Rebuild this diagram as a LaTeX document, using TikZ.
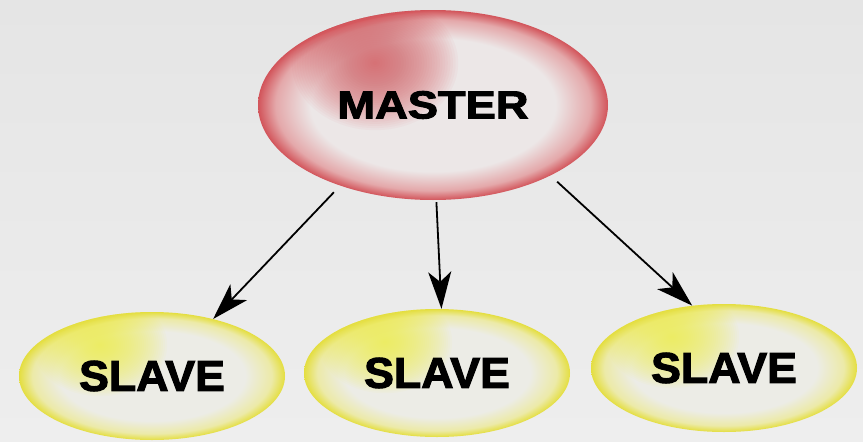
\documentclass[tikz,border=0pt]{standalone}
\usepackage{fontspec}
\setmainfont{Liberation Sans}
\newfontfamily\heavyfont{Liberation Sans Bold}[FakeBold=2.5]
\usetikzlibrary{shapes.geometric,arrows.meta}
\definecolor{bgtop}{RGB}{229,229,229}
\definecolor{bgbot}{RGB}{238,238,238}
\definecolor{redrim}{RGB}{210,84,90}
\definecolor{redmid}{RGB}{228,168,170}
\definecolor{redin}{RGB}{236,231,231}
\definecolor{redspot}{RGB}{214,88,94}
\definecolor{yelrim}{RGB}{228,222,64}
\definecolor{yelmid}{RGB}{236,234,168}
\definecolor{yelin}{RGB}{236,236,230}
\definecolor{yelspot}{RGB}{238,236,70}
\pgfdeclareradialshading{redglow}{\pgfpoint{0bp}{0bp}}{color(0bp)=(redin); color(17.5bp)=(redin); color(22.5bp)=(redmid); color(25bp)=(redrim); color(50bp)=(redrim)}
\pgfdeclareradialshading{yelglow}{\pgfpoint{0bp}{0bp}}{color(0bp)=(yelin); color(17.5bp)=(yelin); color(22.5bp)=(yelmid); color(25bp)=(yelrim); color(50bp)=(yelrim)}
\begin{document}
\begin{tikzpicture}[x=1pt, y=-1pt]
    \tikzset{master/.style={ellipse, inner sep=0pt, minimum width=350pt,
            minimum height=190pt, shade, shading=redglow,
            font=\heavyfont\fontsize{39}{39}\selectfont,
            path picture={\foreach \k in {1,...,32}
                \fill[redspot, opacity=0.045]
                ([xshift=-58pt,yshift=42pt]path picture bounding box.center)
                ellipse ({\k*2.6pt} and {\k*2.1pt});}},
        slave/.style={ellipse, inner sep=0pt, minimum width=266pt,
            minimum height=128pt, shade, shading=yelglow,
            font=\heavyfont\fontsize{43}{43}\selectfont,
            path picture={\foreach \k in {1,...,32}
                \fill[yelspot, opacity=0.045]
                ([xshift=-52pt,yshift=31pt]path picture bounding box.center)
                ellipse ({\k*2.1pt} and {\k*1.6pt});}},
        link/.style={line width=1.8pt, -{Stealth[length=37pt, width=23pt, inset=10pt]}}}
    \useasboundingbox (0,0) rectangle (863,442);
    \shade[top color=bgtop, bottom color=bgbot] (0,0) rectangle (863,442);
    \node[master] (master) at (433,105) {\scalebox{1.16}[1]{MASTER}};
    \node[slave] (slaveA) at (152,376) {\scalebox{1.04}[1]{SLAVE}};
    \node[slave] (slaveB) at (437,373) {\scalebox{1.04}[1]{SLAVE}};
    \node[slave] (slaveC) at (724,368) {\scalebox{1.04}[1]{SLAVE}};
    \draw[link, shorten <=9pt] (master.221) -- (slaveA.43);
    \draw[link, shorten <=2pt] (master.272) -- (slaveB.86);
    \draw[link, shorten <=9pt] (master.329) -- (slaveC.117);
\end{tikzpicture}
\end{document}
